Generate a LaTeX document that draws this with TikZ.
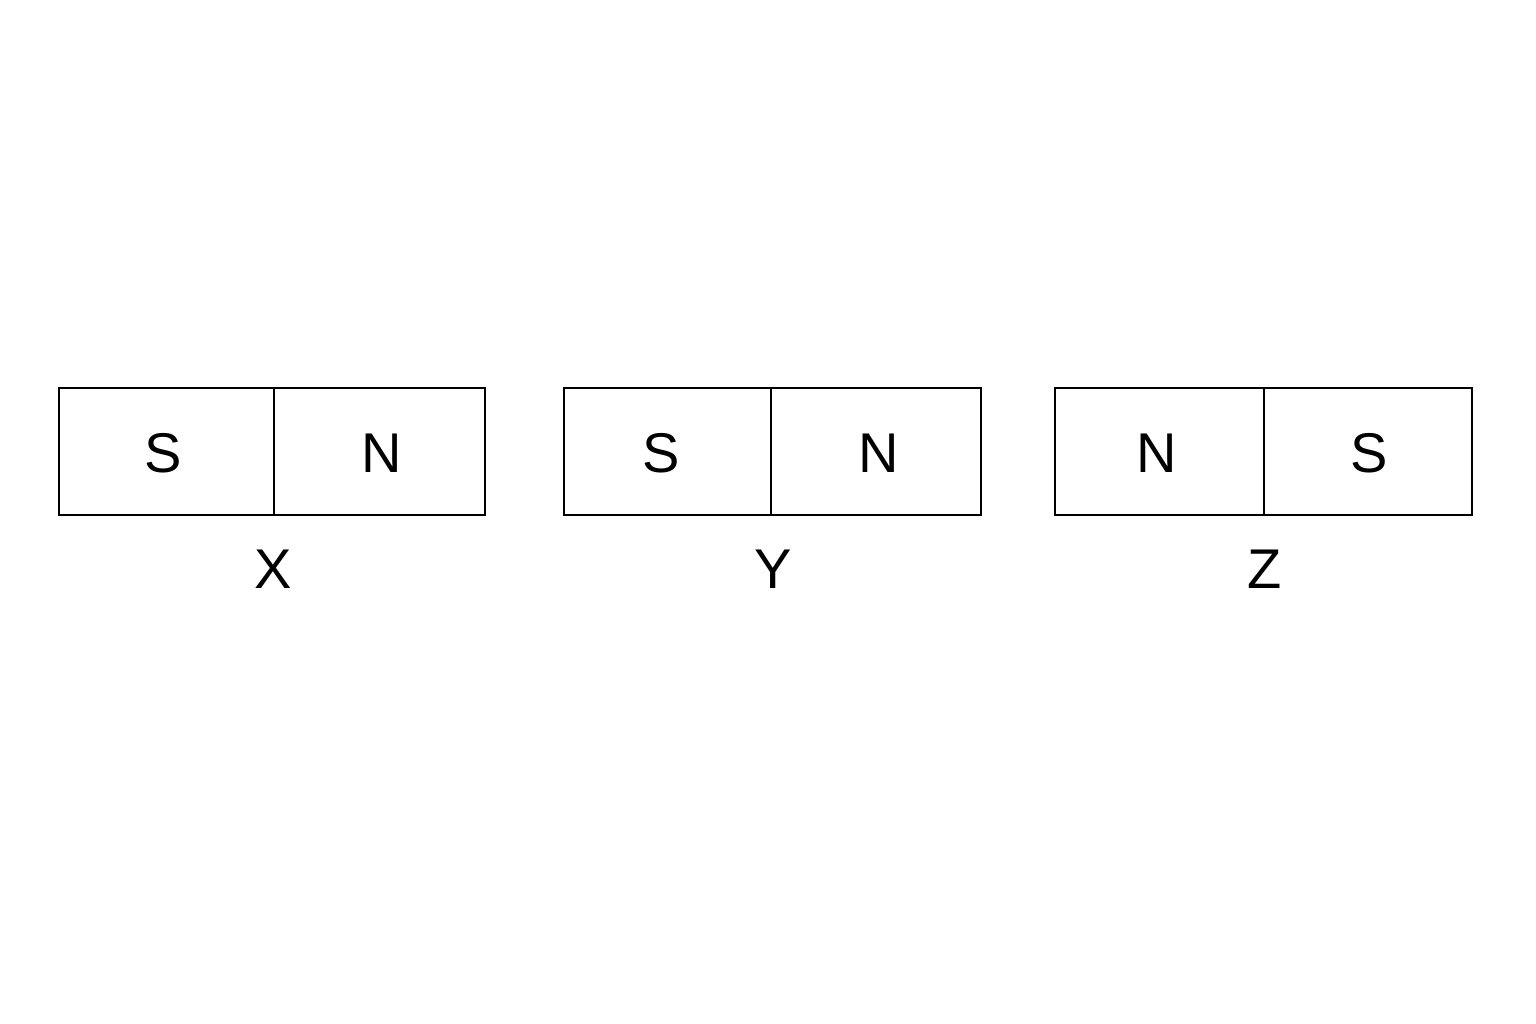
\documentclass[tikz,border=0pt]{standalone}
\usepackage{fontspec}
\setmainfont{Liberation Sans}
\begin{document}
\begin{tikzpicture}[x=0.75pt,y=-0.75pt,
  half/.style={draw=black,line width=2.1pt,rectangle,inner sep=0pt,minimum height=127*0.75pt},
  pole/.style={font=\fontsize{42}{42}\selectfont,inner sep=0pt},
  lbl/.style={font=\fontsize{42}{42}\selectfont,inner sep=0pt}]
\fill[white] (0,0) rectangle (1536,1024);
\useasboundingbox (0,0) rectangle (1536,1024);
% X
\node[half,minimum width=215*0.75pt] (xs) at (166.5,451.5) {};
\node[half,minimum width=211*0.75pt] (xn) at (379.5,451.5) {};
\node[pole] (xst) at (163,453) {S};
\node[pole] (xnt) at (382,453) {N};
\node[lbl] (xl) at (273,569) {X};
% Y
\node[half,minimum width=207*0.75pt] (ys) at (667.5,451.5) {};
\node[half,minimum width=210*0.75pt] (yn) at (876,451.5) {};
\node[pole] (yst) at (661,453) {S};
\node[pole] (ynt) at (879,453) {N};
\node[lbl] (yl) at (773,569) {Y};
% Z
\node[half,minimum width=209*0.75pt] (zn) at (1159.5,451.5) {};
\node[half,minimum width=208*0.75pt] (zs) at (1368,451.5) {};
\node[pole] (znt) at (1157,453) {N};
\node[pole] (zst) at (1369,453) {S};
\node[lbl] (zl) at (1265,569) {Z};
\end{tikzpicture}
\end{document}
